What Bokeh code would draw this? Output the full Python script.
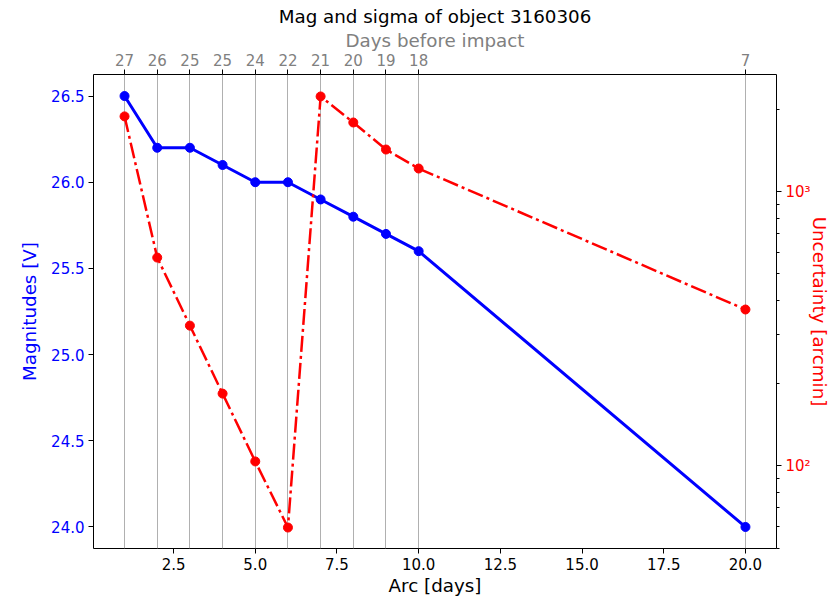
from bokeh.plotting import figure
from bokeh.models import (Range1d, LinearAxis, LogScale, FixedTicker, SingleIntervalTicker,
                          NumeralTickFormatter, Grid)
from bokeh.embed import file_html
from bokeh.resources import INLINE

# data
arc_days = [1, 2, 3, 4, 5, 6, 7, 8, 9, 10, 20]
magnitudes = [26.5, 26.2, 26.2, 26.1, 26.0, 26.0, 25.9, 25.8, 25.7, 25.6, 24.0]
uncertainty = [1880, 574, 324, 183, 103.5, 59.4, 2223, 1786, 1423, 1213, 371]
days_before = ["27", "26", "25", "25", "24", "22", "21", "20", "19", "18", "7"]

FONT = "DejaVu Sans"
TICK = "15px"
LABEL = "18.3px"

p = figure(width=832, height=598, output_backend="svg", toolbar_location=None,
           x_range=Range1d(0.05, 20.95), y_range=Range1d(23.875, 26.625),
           extra_y_ranges={"sig": Range1d(49.8, 2673)},
           extra_y_scales={"sig": LogScale()},
           min_border_left=93, min_border_right=55, min_border_top=74, min_border_bottom=50,
           background_fill_color="white", border_fill_color="white")

p.outline_line_color = "black"
p.outline_line_width = 1
p.xgrid.visible = False
p.ygrid.visible = False

# title
p.title.text = "Mag and sigma of object 3160306"
p.title.align = "center"
p.title.text_font = FONT
p.title.text_font_size = LABEL
p.title.text_font_style = "normal"
p.title.text_color = "black"
p.title.offset = 0
p.title.standoff = 0

def style(ax, color, label_color=None):
    ax.major_label_text_font = FONT
    ax.major_label_text_font_size = TICK
    ax.major_label_text_color = color
    ax.axis_label_text_font = FONT
    ax.axis_label_text_font_size = LABEL
    ax.axis_label_text_font_style = "normal"
    ax.axis_label_text_color = label_color or color
    ax.axis_line_color = None
    ax.major_tick_line_color = "black"
    ax.minor_tick_line_color = "black"
    ax.major_tick_out = 5
    ax.major_tick_in = 0
    ax.minor_tick_out = 3
    ax.minor_tick_in = 0
    ax.major_label_standoff = 4

# bottom axis
xa = p.xaxis[0]
xa.ticker = SingleIntervalTicker(interval=2.5, num_minor_ticks=0)
xa.formatter = NumeralTickFormatter(format="0.0")
xa.axis_label = "Arc [days]"
style(xa, "black")
xa.axis_label_standoff = 2

# left axis
ya = p.yaxis[0]
ya.ticker = SingleIntervalTicker(interval=0.5, num_minor_ticks=0)
ya.formatter = NumeralTickFormatter(format="0.0")
ya.axis_label = "Magnitudes [V]"
style(ya, "blue")
ya.axis_label_standoff = 8

# right log axis
minor = [50, 60, 70, 80, 90, 200, 300, 400, 500, 600, 700, 800, 900, 2000]
ra = LinearAxis(y_range_name="sig", axis_label="Uncertainty [arcmin]",
                ticker=FixedTicker(ticks=[100, 1000], minor_ticks=minor))
ra.major_label_overrides = {100: "10²", 1000: "10³"}
style(ra, "red")
ra.axis_label_standoff = -5
p.add_layout(ra, "right")

# top axis
ta = LinearAxis(axis_label="Days before impact",
                ticker=FixedTicker(ticks=arc_days, minor_ticks=[]))
ta.major_label_overrides = {d: lab for d, lab in zip(arc_days, days_before)}
style(ta, "gray")
ta.axis_label_standoff = 0
p.add_layout(ta, "above")

# vertical grid at the top-axis ticks
g = Grid(dimension=0, ticker=ta.ticker, grid_line_color="#b0b0b0", grid_line_width=1)
p.add_layout(g)

# blue magnitude series
p.line(arc_days, magnitudes, line_color="blue", line_width=3)
p.scatter(arc_days, magnitudes, size=9, fill_color="blue", line_color="blue")

# red uncertainty series
p.line(arc_days, uncertainty, line_color="red", line_width=2.5, line_dash="16 4 3 4",
       y_range_name="sig")
p.scatter(arc_days, uncertainty, size=9, fill_color="red", line_color="red",
          y_range_name="sig")

open("out.html", "w").write(file_html(p, INLINE))
